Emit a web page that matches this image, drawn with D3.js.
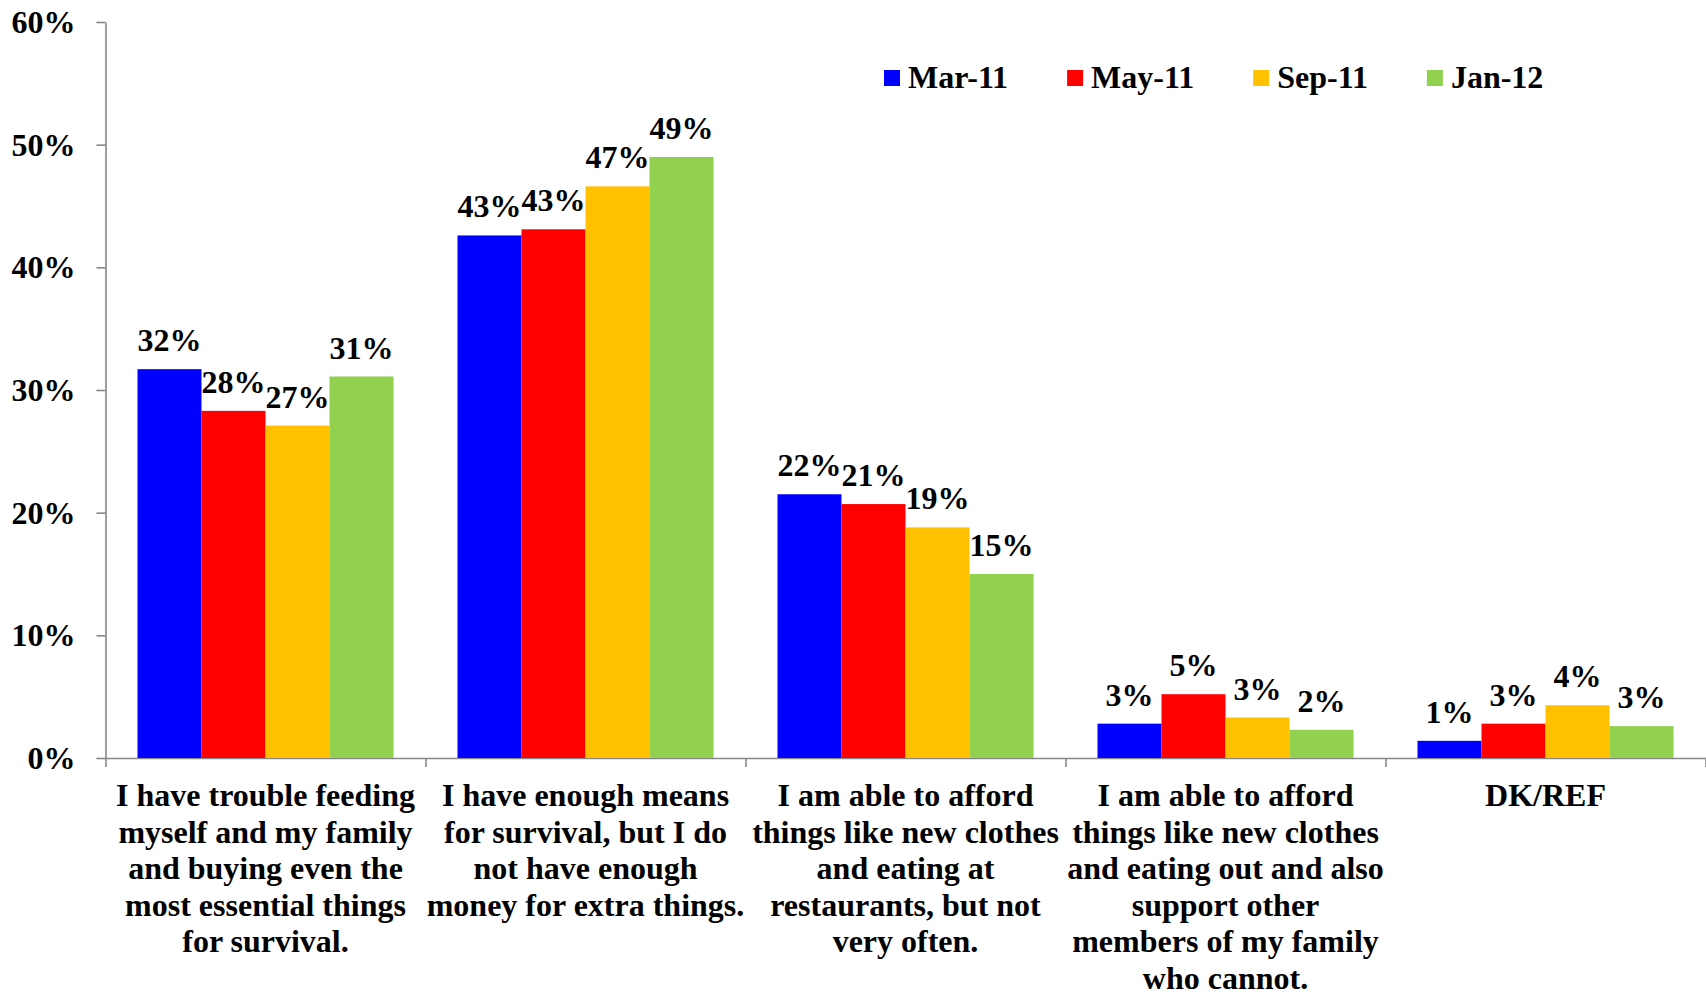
<!DOCTYPE html>
<html>
<head>
<meta charset="utf-8">
<script src="https://cdn.jsdelivr.net/npm/d3@7"></script>
<style>
  body { margin: 0; background: #fff; }
  svg text { font-family: "Times New Roman", "Liberation Serif", serif; font-weight: bold; fill: #000; }
</style>
</head>
<body>
<div id="chart"></div>
<script>
// data
var categories = [
    ["I have trouble feeding", "myself and my family", "and buying even the", "most essential things", "for survival."],
    ["I have enough means", "for survival, but I do", "not have enough", "money for extra things."],
    ["I am able to afford", "things like new clothes", "and eating at", "restaurants, but not", "very often."],
    ["I am able to afford", "things like new clothes", "and eating out and also", "support other", "members of my family", "who cannot."],
    ["DK/REF"]
];
var seriesNames = ["Mar-11", "May-11", "Sep-11", "Jan-12"];
var mar11 = [31.7, 42.6, 21.5, 2.8, 1.4];
var may11 = [28.3, 43.1, 20.7, 5.2, 2.8];
var sep11 = [27.1, 46.6, 18.8, 3.3, 4.3];
var jan12 = [31.1, 49.0, 15.0, 2.3, 2.6];
var yTicks = [0, 10, 20, 30, 40, 50, 60];
var colors = ["#0000FF", "#FF0000", "#FFC000", "#92D050"];

var width = 1706;
var height = 993;
var plotLeft = 105.5, plotRight = 1705.5, plotTop = 22, plotBottom = 758;

var series = [mar11, may11, sep11, jan12];

var svg = d3.select("#chart")
    .append("svg")
    .attr("width", width)
    .attr("height", height);

var x = d3.scaleBand()
    .domain(d3.range(categories.length))
    .range([plotLeft, plotRight])
    .paddingInner(0)
    .paddingOuter(0);

var x1 = d3.scaleBand()
    .domain(d3.range(seriesNames.length))
    .range([32, x.bandwidth() - 32]);

var y = d3.scaleLinear()
    .domain([0, 60])
    .range([plotBottom, plotTop]);

// y axis
var yAxis = svg.append("g")
    .attr("transform", "translate(" + plotLeft + ",0)")
    .call(d3.axisLeft(y)
        .tickValues(yTicks)
        .tickSize(9)
        .tickSizeOuter(0)
        .tickPadding(21)
        .tickFormat(function (d) { return d + "%"; }));
yAxis.selectAll("text").style("font-size", "32px").attr("dy", "0.33em");

// x axis: boundary ticks
var xb = d3.scaleLinear().domain([0, categories.length]).range([plotLeft, plotRight]);
var xAxis = svg.append("g")
    .attr("transform", "translate(0," + plotBottom + ")")
    .call(d3.axisBottom(xb)
        .tickValues(d3.range(categories.length + 1))
        .tickSize(9)
        .tickSizeOuter(0)
        .tickFormat(""));

svg.selectAll(".domain, .tick line")
    .attr("stroke", "#878787")
    .attr("stroke-width", 1.6);

// bars
var groups = svg.selectAll(".serie")
    .data(series)
    .enter()
    .append("g")
    .attr("class", "serie")
    .attr("fill", function (d, i) { return colors[i]; });

groups.each(function (vals, si) {
    var g = d3.select(this);
    g.selectAll("rect")
        .data(vals)
        .enter()
        .append("rect")
        .attr("x", function (d, ci) { return x(ci) + x1(si); })
        .attr("y", function (d) { return y(d); })
        .attr("width", x1.bandwidth())
        .attr("height", function (d) { return plotBottom - y(d); });
});

// value labels (drawn after all bars so they sit on top)
groups.each(function (vals, si) {
    svg.append("g").selectAll("text")
        .data(vals)
        .enter()
        .append("text")
        .attr("x", function (d, ci) { return x(ci) + x1(si) + x1.bandwidth() / 2; })
        .attr("y", function (d) { return y(d) - 18; })
        .attr("text-anchor", "middle")
        .style("font-size", "32px")
        .text(function (d) { return Math.round(d) + "%"; });
});

// category labels
var catG = svg.selectAll(".cat")
    .data(categories)
    .enter()
    .append("text")
    .attr("class", "cat")
    .attr("text-anchor", "middle")
    .style("font-size", "32px")
    .attr("y", 806);

catG.selectAll("tspan")
    .data(function (d, i) { return d.map(function (l) { return {line: l, ci: i}; }); })
    .enter()
    .append("tspan")
    .attr("x", function (d) { return x(d.ci) + x.bandwidth() / 2; })
    .attr("dy", function (d, i) { return i === 0 ? 0 : 36.5; })
    .text(function (d) { return d.line; });

// legend
var legend = svg.append("g").attr("class", "legend");
var lx = 884;
seriesNames.forEach(function (name, i) {
    legend.append("rect")
        .attr("x", lx)
        .attr("y", 70)
        .attr("width", 16)
        .attr("height", 16)
        .attr("fill", colors[i]);
    var t = legend.append("text")
        .attr("x", lx + 24)
        .attr("y", 88)
        .style("font-size", "32px")
        .text(name);
    lx = lx + 24 + t.node().getComputedTextLength() + 59;
});
</script>
</body>
</html>
